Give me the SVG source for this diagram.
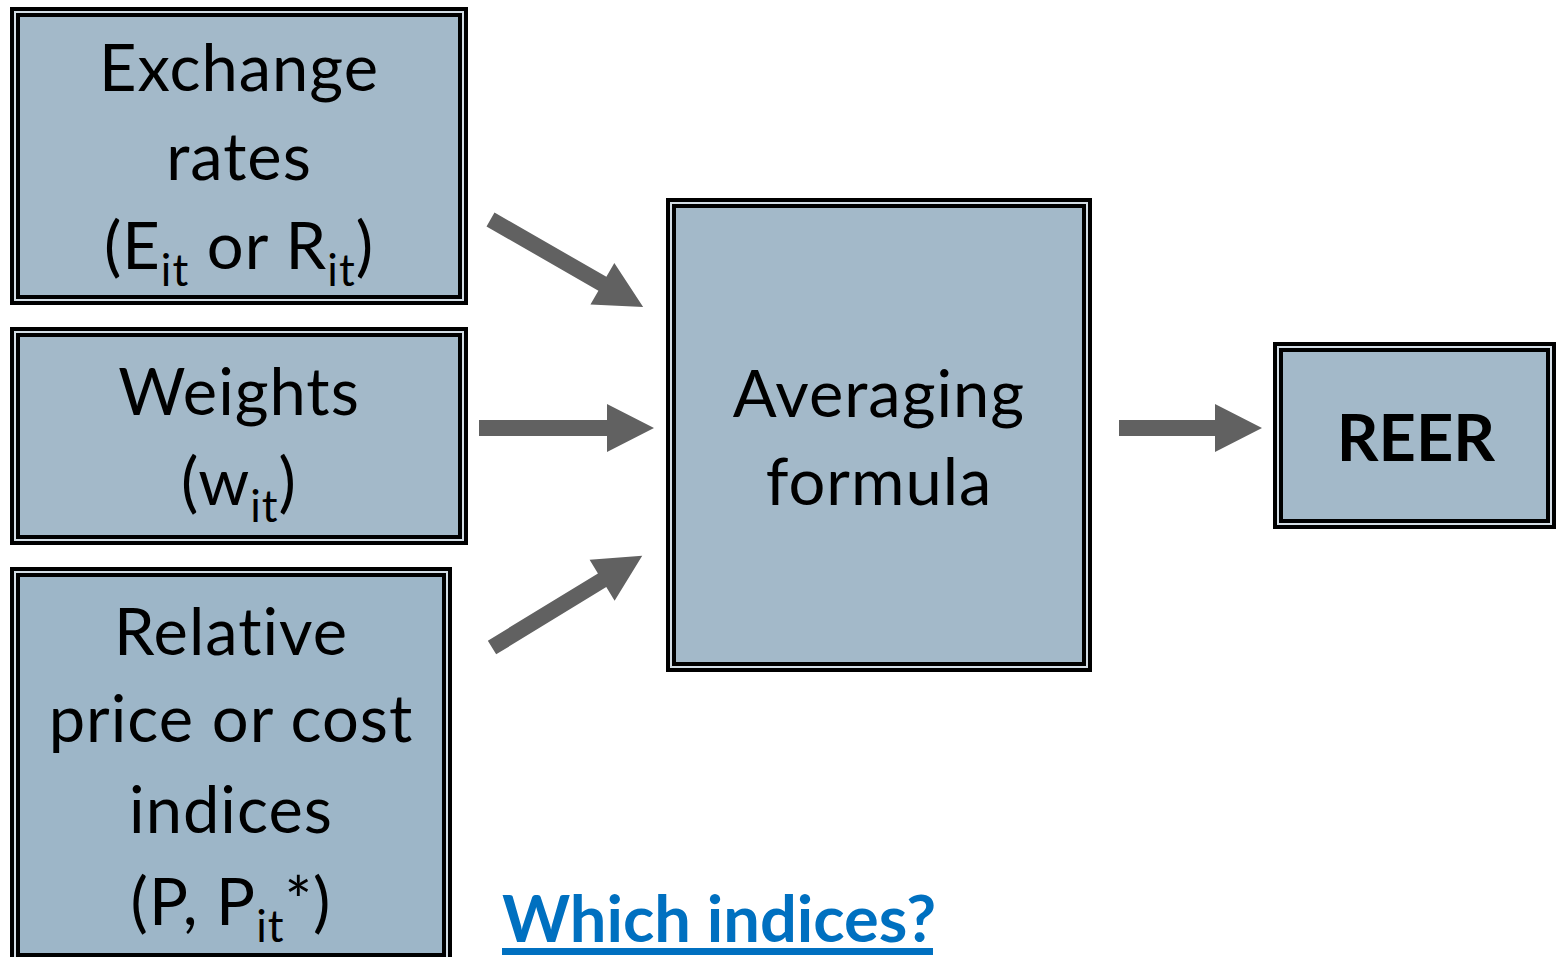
<svg xmlns="http://www.w3.org/2000/svg" width="1556" height="957" viewBox="0 0 1556 957">
<style>
.o{fill:#000}.g{fill:#d3dde5}.f{fill:#a3b9c9;stroke:#000;stroke-width:4}
.t{font-family:Lato,"Liberation Sans",sans-serif;font-size:65px;fill:#000;text-anchor:middle;letter-spacing:1px}
.s{font-size:44px}
.b{font-weight:bold;letter-spacing:0}
.arr{fill:#616161}
</style>
<rect width="1556" height="957" fill="#fff"/>
<g id="n1">
<rect class="o" x="10" y="7" width="458" height="298"/>
<rect class="g" x="14" y="11" width="450" height="290"/>
<rect class="f" x="18" y="15" width="442" height="282"/>
<text class="t" x="239" y="91">Exchange</text>
<text class="t" x="239" y="180">rates</text>
<text class="t" x="239" y="269">(E<tspan class="s" dy="17">it</tspan><tspan dy="-17"> or R</tspan><tspan class="s" dy="17">it</tspan><tspan dy="-17">)</tspan></text>
</g>
<g id="n2">
<rect class="o" x="10" y="327" width="458" height="218"/>
<rect class="g" x="14" y="331" width="450" height="210"/>
<rect class="f" x="18" y="335" width="442" height="202"/>
<text class="t" x="239" y="415">Weights</text>
<text class="t" x="239" y="505">(w<tspan class="s" dy="17">it</tspan><tspan dy="-17">)</tspan></text>
</g>
<g id="n3">
<rect class="o" x="10" y="567" width="442" height="396"/>
<rect class="g" x="14" y="571" width="434" height="388"/>
<rect class="f" x="18" y="575" width="426" height="380" style="fill:#9db6c8"/>
<text class="t" x="231" y="655">Relative</text>
<text class="t" x="231" y="742">price or cost</text>
<text class="t" x="231" y="833">indices</text>
<text class="t" x="231" y="925">(P, P<tspan class="s" dy="17">it</tspan><tspan dy="-17">*)</tspan></text>
</g>
<g id="n4">
<rect class="o" x="666" y="198" width="426" height="474"/>
<rect class="g" x="670" y="202" width="418" height="466"/>
<rect class="f" x="674" y="206" width="410" height="458"/>
<text class="t" x="879" y="417">Averaging</text>
<text class="t" x="879" y="505">formula</text>
</g>
<g id="n5">
<rect class="o" x="1273" y="342" width="283" height="187"/>
<rect class="g" x="1277" y="346" width="275" height="179"/>
<rect class="f" x="1281" y="350" width="267" height="171"/>
<text class="t b" x="1416" y="461">REER</text>
</g>
<g id="label">
<text class="t b" x="502" y="942" style="text-anchor:start;fill:#0070c0">Which indices?</text>
<rect x="502" y="948" width="431" height="7" fill="#0070c0"/>
</g>
<g id="connectors" class="arr">
<polygon points="479,420 607,420 607,404 654,428 607,452 607,436 479,436"/>
<polygon points="1119,420 1215,420 1215,404 1262,428 1215,452 1215,436 1119,436"/>
<g transform="translate(490.5,219.5) rotate(29.85)"><polygon points="0,-8 129,-8 129,-24 176,0 129,24 129,8 0,8"/></g>
<g transform="translate(492,647.5) rotate(-31.4)"><polygon points="0,-8 129,-8 129,-24 176,0 129,24 129,8 0,8"/></g>
</g>
</svg>
